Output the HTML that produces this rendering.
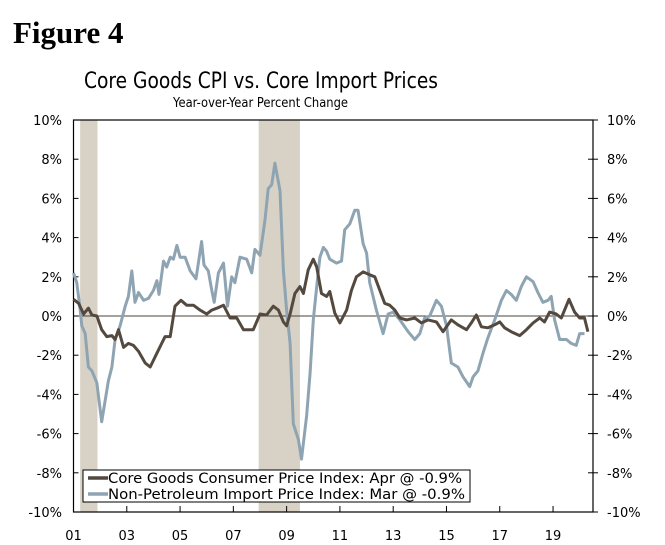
<!DOCTYPE html>
<html><head><meta charset="utf-8"><style>
body{margin:0;background:#fff;}
svg{display:block;font-family:"DejaVu Sans","Liberation Sans",sans-serif;}
</style></head><body>
<svg id="chart" width="665" height="545" viewBox="0 0 665 545">
<text x="13" y="43" font-family="Liberation Serif,serif" font-weight="bold" font-size="31" fill="#000">Figure 4</text>
<text x="84" y="88" font-family="DejaVu Sans,sans-serif" font-size="22.5" textLength="354" lengthAdjust="spacingAndGlyphs" fill="#000">Core Goods CPI vs. Core Import Prices</text>
<text x="173" y="107" font-family="DejaVu Sans,sans-serif" font-size="13" textLength="175" lengthAdjust="spacingAndGlyphs" fill="#000">Year-over-Year Percent Change</text>
<g id="shade"></g><g id="axes"></g><g id="lines"></g>
<g>
<rect x="83" y="470" width="387" height="32" fill="#fff" stroke="#000" stroke-width="1"/>
<line x1="88" y1="478" x2="108" y2="478" stroke="#54493f" stroke-width="3.5"/>
<text x="108" y="483" font-size="14" textLength="354" lengthAdjust="spacingAndGlyphs">Core Goods Consumer Price Index: Apr @ -0.9%</text>
<line x1="88" y1="494" x2="108" y2="494" stroke="#8ea4b2" stroke-width="3.5"/>
<text x="108" y="499" font-size="14" textLength="357" lengthAdjust="spacingAndGlyphs">Non-Petroleum Import Price Index: Mar @ -0.9%</text>
</g>
</svg>
<script>
const xTickLabels=["01","03","05","07","09","11","13","15","17","19"];
const xTickYears=[2001,2003,2005,2007,2009,2011,2013,2015,2017,2019];
const yTicks=[10,8,6,4,2,0,-2,-4,-6,-8,-10];
const recessionStart=[2001.25,2007.95];
const recessionEnd=[2001.9,2009.5];
const importYears=[2001.0,2001.125,2001.25,2001.31,2001.44,2001.56,2001.69,2001.875,2002.06,2002.31,2002.44,2002.56,2002.75,2002.94,2003.06,2003.19,2003.31,2003.44,2003.63,2003.81,2004.0,2004.13,2004.21,2004.38,2004.5,2004.63,2004.75,2004.88,2005.0,2005.19,2005.38,2005.6,2005.81,2005.9,2006.06,2006.19,2006.28,2006.44,2006.63,2006.78,2006.94,2007.06,2007.25,2007.5,2007.69,2007.81,2008.0,2008.19,2008.31,2008.44,2008.56,2008.75,2008.88,2009.0,2009.13,2009.25,2009.44,2009.56,2009.75,2009.88,2010.0,2010.13,2010.25,2010.38,2010.5,2010.62,2010.87,2011.06,2011.18,2011.37,2011.56,2011.68,2011.87,2012.0,2012.12,2012.37,2012.62,2012.81,2013.0,2013.25,2013.56,2013.81,2014.0,2014.18,2014.37,2014.62,2014.81,2015.0,2015.18,2015.43,2015.62,2015.87,2016.0,2016.18,2016.37,2016.56,2016.81,2017.06,2017.25,2017.43,2017.62,2017.81,2018.0,2018.25,2018.43,2018.62,2018.81,2018.93,2019.06,2019.25,2019.5,2019.68,2019.87,2020.0,2020.18];
const importValues=[2.2,1.7,0.3,-0.5,-0.9,-2.6,-2.8,-3.4,-5.4,-3.3,-2.6,-1.2,-0.5,0.5,1.0,2.3,0.7,1.2,0.8,0.9,1.3,1.8,1.1,2.8,2.5,3.0,2.9,3.6,3.0,3.0,2.3,1.9,3.8,2.6,2.3,1.3,0.7,2.2,2.7,0.5,2.0,1.7,3.0,2.9,2.2,3.4,3.1,4.9,6.5,6.7,7.8,6.4,2.3,0.3,-1.4,-5.5,-6.3,-7.3,-5.1,-2.9,-0.2,1.5,3.0,3.5,3.3,2.9,2.7,2.8,4.4,4.7,5.4,5.4,3.7,3.2,1.7,0.3,-0.9,0.1,0.2,-0.2,-0.8,-1.2,-0.9,-0.1,0.0,0.8,0.5,-0.5,-2.4,-2.6,-3.1,-3.6,-3.1,-2.8,-1.9,-1.1,-0.2,0.8,1.3,1.1,0.8,1.5,2.0,1.75,1.2,0.7,0.8,1.0,-0.2,-1.2,-1.2,-1.4,-1.5,-0.9,-0.9];
const coreYears=[2001.0,2001.19,2001.38,2001.56,2001.69,2001.88,2002.06,2002.25,2002.44,2002.56,2002.69,2002.88,2003.06,2003.25,2003.44,2003.69,2003.88,2004.13,2004.31,2004.44,2004.63,2004.81,2005.03,2005.25,2005.5,2005.75,2006.0,2006.19,2006.38,2006.63,2006.88,2007.13,2007.38,2007.56,2007.75,2008.0,2008.25,2008.5,2008.69,2008.88,2009.0,2009.13,2009.31,2009.5,2009.63,2009.81,2010.0,2010.13,2010.31,2010.5,2010.62,2010.81,2011.0,2011.25,2011.43,2011.62,2011.87,2012.12,2012.31,2012.5,2012.68,2012.87,2013.06,2013.25,2013.5,2013.81,2014.06,2014.31,2014.62,2014.87,2015.18,2015.43,2015.75,2015.93,2016.12,2016.31,2016.56,2016.81,2017.0,2017.18,2017.43,2017.75,2018.0,2018.25,2018.5,2018.68,2018.87,2019.12,2019.31,2019.6,2019.81,2020.0,2020.18,2020.31];
const coreValues=[0.85,0.65,0.1,0.4,0.05,0.0,-0.7,-1.05,-1.0,-1.2,-0.7,-1.6,-1.4,-1.5,-1.8,-2.4,-2.6,-1.9,-1.4,-1.05,-1.05,0.5,0.8,0.55,0.55,0.3,0.1,0.3,0.4,0.55,-0.1,-0.1,-0.7,-0.7,-0.7,0.1,0.05,0.5,0.3,-0.3,-0.5,0.1,1.15,1.5,1.15,2.35,2.9,2.5,1.15,1.0,1.25,0.15,-0.35,0.3,1.3,2.0,2.25,2.1,2.0,1.3,0.65,0.55,0.3,-0.1,-0.2,-0.1,-0.35,-0.2,-0.3,-0.8,-0.2,-0.45,-0.7,-0.35,0.05,-0.55,-0.6,-0.45,-0.3,-0.6,-0.8,-1.0,-0.7,-0.35,-0.1,-0.3,0.2,0.1,-0.1,0.85,0.2,-0.1,-0.1,-0.8];

const NS="http://www.w3.org/2000/svg";
const L=73.5,R=593,T=120,B=512,X0=2001,X1=2020.5;
const xs=y=>L+(y-X0)/(X1-X0)*(R-L);
const ys=v=>T+(10-v)/20*(B-T);
function mk(tag,attrs,parent){const e=document.createElementNS(NS,tag);for(const k in attrs)e.setAttribute(k,attrs[k]);parent.appendChild(e);return e;}
const shade=document.getElementById('shade'),axes=document.getElementById('axes'),lines=document.getElementById('lines');
for(let i=0;i<recessionStart.length;i++){
  const r=mk('rect',{x:xs(recessionStart[i]),y:T,width:xs(recessionEnd[i])-xs(recessionStart[i]),height:B-T,fill:'#d7d2c5'},shade);
  
  
}
const frame=mk('rect',{x:L,y:T,width:R-L,height:B-T,fill:'none',stroke:'#000','stroke-width':1.2},axes);


const zl=mk('line',{x1:L,x2:R,y1:ys(0),y2:ys(0),stroke:'#4a4236','stroke-width':1},axes);


yTicks.forEach(v=>{
  const y=ys(v);
  mk('line',{x1:L,x2:L+5,y1:y,y2:y,stroke:'#000'},axes);
  mk('line',{x1:R-5,x2:R+5,y1:y,y2:y,stroke:'#000'},axes);
  const t1=mk('text',{x:62,y:y+5,'text-anchor':'end','font-size':13},axes);t1.textContent=v+'%';
  
  
  const t2=mk('text',{x:607,y:y+5,'font-size':13},axes);t2.textContent=v+'%';
  
  
});
xTickYears.forEach((yr,i)=>{
  const x=xs(yr);
  mk('line',{x1:x,x2:x,y1:B,y2:B-6,stroke:'#000'},axes);
  const t=mk('text',{x:x,y:B+28,'text-anchor':'middle','font-size':13},axes);t.textContent=xTickLabels[i];
  
  
});
function path(years,vals,color,name){
  const d=years.map((y,i)=>(i?'L':'M')+xs(y).toFixed(1)+','+ys(vals[i]).toFixed(1)).join('');
  const p=mk('path',{d:d,fill:'none',stroke:color,'stroke-width':3,'stroke-linejoin':'round'},lines);
  
  
}
path(importYears,importValues,'#8ea4b2','import-price-line');
path(coreYears,coreValues,'#54493f','core-goods-cpi-line');
</script>
</body></html>
